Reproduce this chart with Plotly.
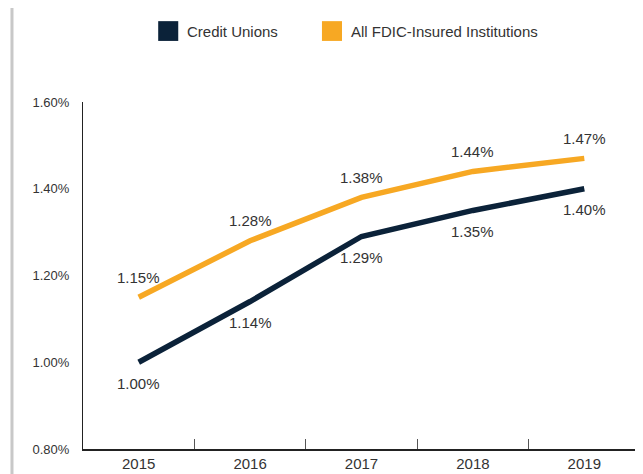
import plotly.graph_objects as go

years = ["2015", "2016", "2017", "2018", "2019"]
credit_unions = [1.00, 1.14, 1.29, 1.35, 1.40]
fdic_insured = [1.15, 1.28, 1.38, 1.44, 1.47]
y_ticks = [0.8, 1.0, 1.2, 1.4, 1.6]

NAVY = "#0b2239"
ORANGE = "#f7a823"
TEXT = "#333333"
FONT = "Liberation Sans Narrow, Liberation Sans, Arial, sans-serif"


def pct(vals):
    return ["{:.2f}%".format(v) for v in vals]


fig = go.Figure()

fig.add_trace(go.Scatter(
    x=years, y=fdic_insured, mode="lines",
    name="All FDIC-Insured Institutions",
    line=dict(color=ORANGE, width=5.5),
    showlegend=False,
))
fig.add_trace(go.Scatter(
    x=years, y=credit_unions, mode="lines",
    name="Credit Unions",
    line=dict(color=NAVY, width=5.5),
    showlegend=False,
))

# value labels: above the orange line, below the navy one
# (category index as x, a "2015" string would be read as a number)
for i, v in enumerate(fdic_insured):
    fig.add_annotation(x=i, y=v, text="{:.2f}%".format(v), showarrow=False,
                       yshift=20, font=dict(size=15, color=TEXT))
for i, v in enumerate(credit_unions):
    fig.add_annotation(x=i, y=v, text="{:.2f}%".format(v), showarrow=False,
                       yshift=-21, font=dict(size=15, color=TEXT))

# legend drawn by hand: square swatches + labels
legend_items = [("Credit Unions", NAVY, 0.135), ("All FDIC-Insured Institutions", ORANGE, 0.429)]
for label, color, lx in legend_items:
    fig.add_shape(type="rect", xref="paper", yref="paper",
                  x0=lx, x1=lx + 0.036, y0=1.176, y1=1.233,
                  fillcolor=color, line=dict(width=0))
    fig.add_annotation(x=lx + 0.048, y=1.204, xref="paper", yref="paper",
                       text=label, showarrow=False, xanchor="left", yanchor="middle",
                       font=dict(size=15, color=TEXT))

# light grey frame line at the left edge
fig.add_shape(type="line", xref="paper", yref="paper",
              x0=-0.1275, x1=-0.1275, y0=-0.1, y1=1.3,
              line=dict(color="#c8c8c8", width=3))

# page body keeps its default 8px margin, so the figure is 8px smaller
fig.update_layout(
    width=635, height=466,
    margin=dict(l=75, r=3, t=94, b=25),
    paper_bgcolor="white", plot_bgcolor="white",
    font=dict(family=FONT, size=13, color=TEXT),
    xaxis=dict(
        type="category", range=[-0.5, 4.5],
        showline=True, linecolor="#222222", linewidth=1.5,
        ticks="inside", tickson="boundaries", ticklen=10, tickcolor="#555555",
        showgrid=False, tickfont=dict(size=15), automargin=False,
    ),
    yaxis=dict(
        range=[0.8, 1.6], tickvals=y_ticks,
        ticktext=pct(y_ticks),
        showline=True, linecolor="#222222", linewidth=1,
        showgrid=False, zeroline=False, ticks="", ticklabelstandoff=10,
        tickfont=dict(size=13), automargin=False,
    ),
)

fig.write_html("out.html")
